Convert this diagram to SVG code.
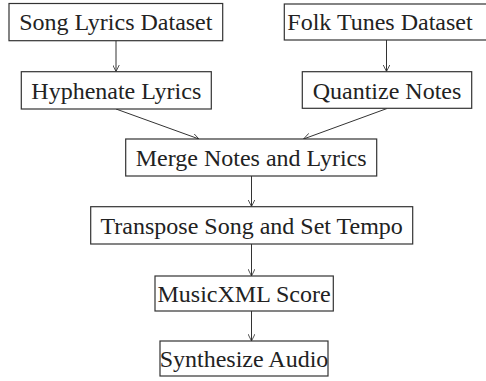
<svg xmlns="http://www.w3.org/2000/svg" width="486" height="381" viewBox="0 0 486 381">
<defs>
<style>
.box{fill:#fff;stroke:#333;stroke-width:1.2}
.lbl{font-family:"Liberation Serif","Times New Roman",serif;font-size:24px;fill:#222;text-anchor:middle}
.edge{stroke:#333;stroke-width:1;fill:none;marker-end:url(#ah)}
</style>
<marker id="ah" viewBox="0 0 10 10" refX="10" refY="5" markerWidth="7" markerHeight="7" markerUnits="userSpaceOnUse" orient="auto">
<path d="M0,0 L10,5 L0,10" fill="none" stroke="#333" stroke-width="1.2"/>
</marker>
</defs>
<rect width="486" height="381" fill="#fff"/>
<g id="connectors">
<line class="edge" x1="116" y1="40.7" x2="116" y2="71.5"/>
<line class="edge" x1="386.5" y1="40" x2="386.5" y2="71.5"/>
<line class="edge" x1="116" y1="109" x2="199" y2="139"/>
<line class="edge" x1="387" y1="108.5" x2="303.5" y2="139"/>
<line class="edge" x1="251.5" y1="176" x2="251.5" y2="206.5"/>
<line class="edge" x1="251.5" y1="244" x2="251.5" y2="276"/>
<line class="edge" x1="251.5" y1="311" x2="251.5" y2="341"/>
</g>
<g id="song-lyrics-dataset">
<rect class="box" x="9" y="3.5" width="213.7" height="37.2"/>
<text class="lbl" x="115.8" y="30">Song Lyrics Dataset</text>
</g>
<g id="folk-tunes-dataset">
<rect class="box" x="284.3" y="4" width="204" height="36"/>
<text class="lbl" x="380" y="30">Folk Tunes Dataset</text>
</g>
<g id="hyphenate-lyrics">
<rect class="box" x="21.3" y="71.7" width="190" height="37.3"/>
<text class="lbl" x="116.3" y="98.5">Hyphenate Lyrics</text>
</g>
<g id="quantize-notes">
<rect class="box" x="302.3" y="71.7" width="169.4" height="36.6"/>
<text class="lbl" x="387" y="98.5">Quantize Notes</text>
</g>
<g id="merge-notes-lyrics">
<rect class="box" x="125.7" y="139" width="251" height="37"/>
<text class="lbl" x="251.2" y="165.5">Merge Notes and Lyrics</text>
</g>
<g id="transpose-song">
<rect class="box" x="90.7" y="206.7" width="322" height="37.3"/>
<text class="lbl" x="251.7" y="233.5">Transpose Song and Set Tempo</text>
</g>
<g id="musicxml-score">
<rect class="box" x="155" y="276" width="178.3" height="35"/>
<text class="lbl" x="244" y="301.5">MusicXML Score</text>
</g>
<g id="synthesize-audio">
<rect class="box" x="160" y="341" width="168" height="35"/>
<text class="lbl" x="244" y="366.5">Synthesize Audio</text>
</g>
</svg>
